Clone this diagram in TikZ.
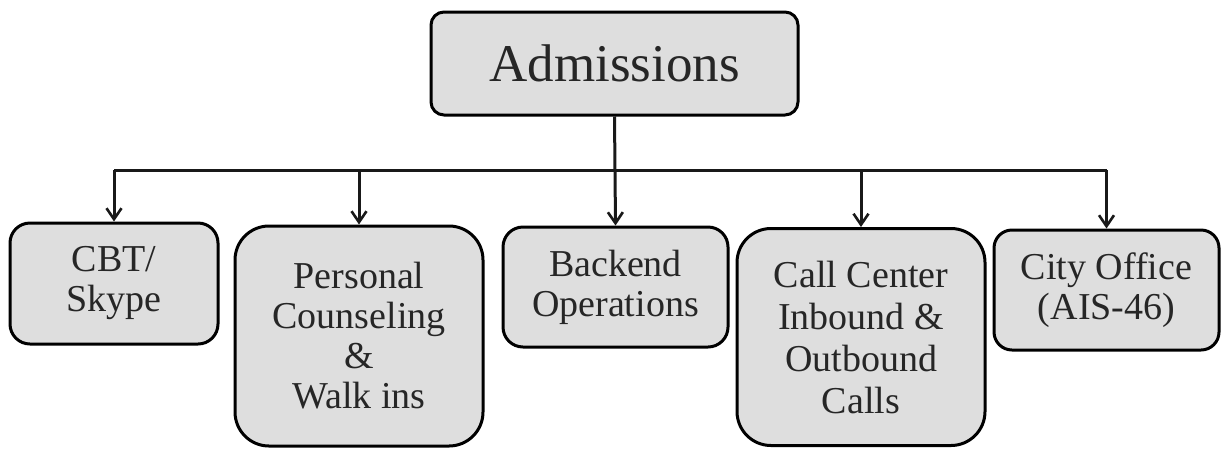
\documentclass[tikz,border=0pt]{standalone}
\usepackage{fontspec}
\setmainfont{Liberation Serif}
\usetikzlibrary{arrows.meta}
\definecolor{boxfill}{RGB}{222,222,222}
\tikzset{
  orgbox/.style={draw=black, line width=3pt, fill=boxfill, align=center, inner sep=0pt, text=black!85,
    font=\fontsize{38}{40}\selectfont},
  link/.style={line width=3pt, draw=black!90},
  arr/.style={link, -{Straight Barb[length=11pt,width=15pt,line width=2.6pt]}}
}
\begin{document}
\begin{tikzpicture}[x=1pt,y=-1pt]
\useasboundingbox (0,0) rectangle (1222,448);
\node[orgbox, rounded corners=13pt, minimum width=367pt, minimum height=103pt,
      font=\fontsize{53}{55}\selectfont] (adm) at (614.5,63.5) {Admissions};
\node[orgbox, rounded corners=20pt, minimum width=208pt, minimum height=121pt] (cbt) at (114,283.5) {CBT/\\Skype};
\node[orgbox, rounded corners=34pt, minimum width=248pt, minimum height=220pt] (pers) at (359,336) {\raisebox{6pt}{\parbox{240pt}{\centering Personal\\Counseling\\\&\\Walk ins}}};
\node[orgbox, rounded corners=20pt, minimum width=225pt, minimum height=120pt] (back) at (615.5,287) {Backend\\Operations};
\node[orgbox, rounded corners=34pt, minimum width=248pt, minimum height=217pt, font=\fontsize{38}{42}\selectfont] (call) at (861,337) {Call Center\\Inbound \&\\Outbound\\Calls};
\node[orgbox, rounded corners=18pt, minimum width=225pt, minimum height=120pt] (city) at (1106.5,290) {City Office\\(AIS-46)};
\coordinate (j) at (adm.south |- 0,170);
\coordinate (jl) at (cbt.north |- 0,170);
\coordinate (jr) at (city.north |- 0,170);
\draw[link] (jl) -- (jr);
\draw[arr] (adm.south) -- (back.north);
\draw[arr] (jl) -- (cbt.north);
\draw[arr] (pers.north |- j) -- (pers.north);
\draw[arr] (call.north |- j) -- (call.north);
\draw[arr] (jr) -- (city.north);
\end{tikzpicture}
\end{document}
